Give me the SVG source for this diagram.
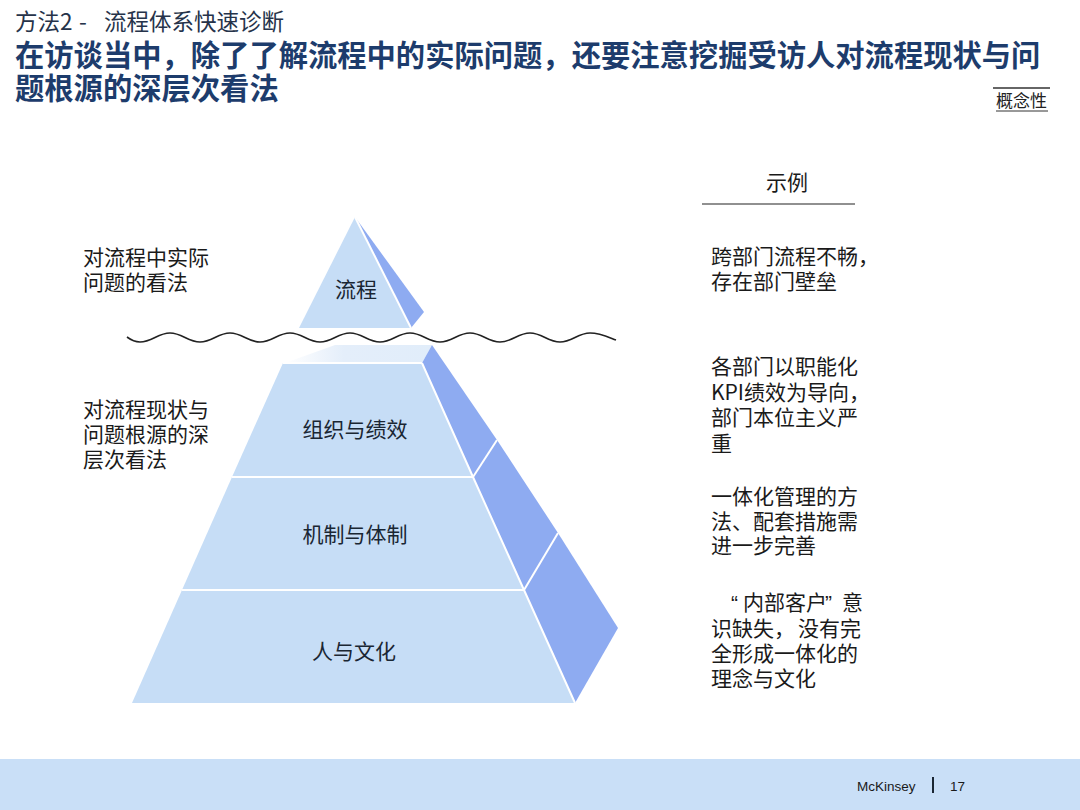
<svg xmlns="http://www.w3.org/2000/svg" width="1080" height="810" viewBox="0 0 1080 810">
<defs>
<style>
text{font-family:"Noto Sans CJK SC","Liberation Sans",sans-serif;}
.t{font-size:21px;fill:#1a1a1a;}
.lbl{font-size:21px;fill:#1a2633;text-anchor:middle;}
.front{fill:#c6ddf6;}
.side{fill:#8eabf1;}
.sep{stroke:#ffffff;stroke-width:2;fill:none;}
.q{font-family:"Liberation Sans",sans-serif;}
</style>
<linearGradient id="topface" x1="0" y1="0" x2="1" y2="0">
<stop offset="0" stop-color="#ffffff"/>
<stop offset="0.4" stop-color="#e4eefa"/>
<stop offset="1" stop-color="#e1edfa"/>
</linearGradient>
</defs>
<rect width="1080" height="810" fill="#ffffff"/>

<g id="header">
<text y="30" font-size="22.5" fill="#26334a"><tspan x="15">方法2</tspan><tspan x="79">-</tspan><tspan x="104">流程体系快速诊断</tspan></text>
<text font-size="29.3" font-weight="bold" fill="#1d3c6c"><tspan x="15" y="66">在访谈当中，除了了解流程中的实际问题，还要注意挖掘受访人对流程现状与问</tspan><tspan x="15" y="99">题根源的深层次看法</tspan></text>
<line x1="993" y1="88" x2="1050" y2="88" stroke="#333" stroke-width="1.5"/>
<text x="996" y="107" font-size="17" fill="#222">概念性</text>
<line x1="996" y1="111" x2="1048" y2="111" stroke="#333" stroke-width="1"/>
</g>

<g id="pyramid-top">
<polygon class="front" points="355,217 299,328 411,328"/>
<polygon class="side" points="355,217 424,312 411,328"/>
<line class="sep" x1="355" y1="217" x2="411" y2="328"/>
<text class="lbl" x="356" y="297">流程</text>
</g>

<g id="waterline">
<path d="M127,337 C131,340 135,342 140,342 C152,342 158,333 170,333 C182,333 188,342 200,342 C212,342 218,333 230,333 C242,333 248,342 260,342 C272,342 278,333 290,333 C302,333 308,342 320,342 C332,342 338,333 350,333 C362,333 368,342 380,342 C392,342 398,333 410,333 C422,333 428,342 440,342 C452,342 458,333 470,333 C482,333 488,342 500,342 C512,342 518,333 530,333 C542,333 548,342 560,342 C572,342 578,333 590,333 C600,333 608,337 616,340" fill="none" stroke="#222" stroke-width="1.6"/>
</g>

<g id="pyramid-base-top">
<polygon points="285,363 335,345 432,345 422,363" fill="url(#topface)"/>
</g>

<g id="layer-org">
<polygon class="front" points="283,363 422,363 473,477 232,477"/>
<polygon class="side" points="422,363 432,345 497,440 473,477"/>
<text class="lbl" x="355" y="437">组织与绩效</text>
</g>
<g id="layer-mech">
<polygon class="front" points="232,477 473,477 524,590 182,590"/>
<polygon class="side" points="473,477 497,440 558,533 524,590"/>
<text class="lbl" x="355" y="542">机制与体制</text>
</g>
<g id="layer-people">
<polygon class="front" points="182,590 524,590 575,703 132,703"/>
<polygon class="side" points="524,590 558,533 618,628 575,703"/>
<text class="lbl" x="354" y="659">人与文化</text>
</g>
<g id="pyramid-edges">
<line class="sep" x1="232" y1="477" x2="473" y2="477"/>
<line class="sep" x1="182" y1="590" x2="524" y2="590"/>
<line class="sep" x1="283" y1="363" x2="422" y2="363"/>
<polyline class="sep" points="422,363 473,477 524,590 575,703"/>
<line class="sep" x1="473" y1="477" x2="497" y2="440"/>
<line class="sep" x1="524" y1="590" x2="558" y2="533"/>
</g>

<g id="left-labels">
<text class="t"><tspan x="83" y="265">对流程中实际</tspan><tspan x="83" y="290">问题的看法</tspan></text>
<text class="t"><tspan x="83" y="417">对流程现状与</tspan><tspan x="83" y="442">问题根源的深</tspan><tspan x="83" y="467">层次看法</tspan></text>
</g>

<g id="examples">
<text class="t" x="787" y="190" text-anchor="middle">示例</text>
<line x1="702" y1="204" x2="855" y2="204" stroke="#222" stroke-width="1.2"/>
<text class="t"><tspan x="711" y="264">跨部门流程不畅，</tspan><tspan x="711" y="289">存在部门壁垒</tspan></text>
<text class="t"><tspan x="711" y="374">各部门以职能化</tspan><tspan x="711" y="400">KPI绩效为导向，</tspan><tspan x="711" y="425">部门本位主义严</tspan><tspan x="711" y="451">重</tspan></text>
<text class="t"><tspan x="711" y="504">一体化管理的方</tspan><tspan x="711" y="529">法、配套措施需</tspan><tspan x="711" y="553">进一步完善</tspan></text>
<text class="t"><tspan class="q" x="731" y="610">“</tspan><tspan x="743" y="610">内部客户</tspan><tspan class="q" x="825" y="610">”</tspan><tspan x="842" y="610">意</tspan><tspan x="711" y="636">识缺失，</tspan><tspan x="798" y="636">没有完</tspan><tspan x="711" y="661">全形成一体化的</tspan><tspan x="711" y="686">理念与文化</tspan></text>
</g>

<g id="footer">
<rect x="0" y="759" width="1080" height="51" fill="#c9dff7"/>
<text x="857" y="791" font-size="13.5" fill="#1a1a1a" style="font-family:'Liberation Sans',Arial,sans-serif">McKinsey</text>
<line x1="933" y1="777" x2="933" y2="793" stroke="#1a2633" stroke-width="2"/>
<text x="950" y="791" font-size="13.5" fill="#1a1a1a" style="font-family:'Liberation Sans',Arial,sans-serif">17</text>
</g>
</svg>
